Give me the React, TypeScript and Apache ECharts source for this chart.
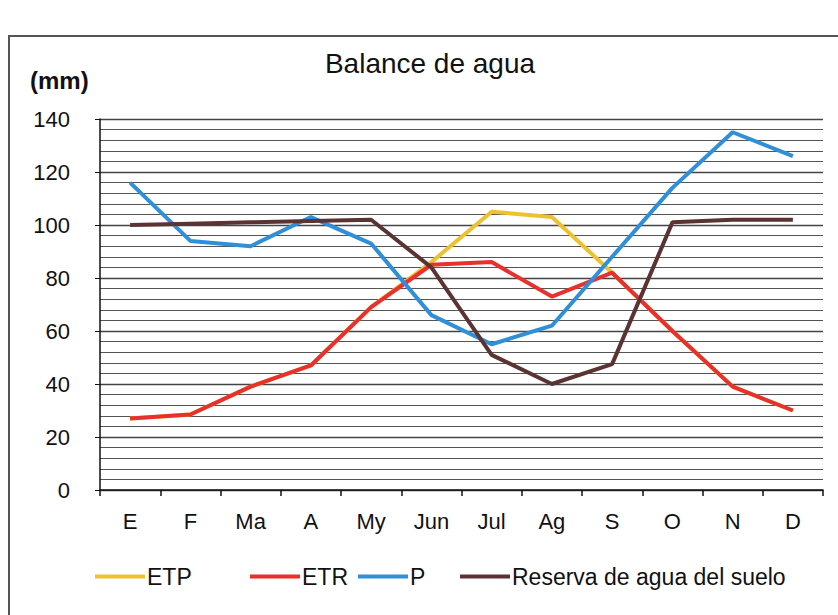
import React, { useEffect, useRef } from "react";
import * as echarts from "echarts";

const months = ["E", "F", "Ma", "A", "My", "Jun", "Jul", "Ag", "S", "O", "N", "D"];
const etp = [27, 28.5, 39, 47, 69, 86, 105, 103, 82, 60, 39, 30];
const etr = [27, 28.5, 39, 47, 69, 85, 86, 73, 82, 60, 39, 30];
const p = [116, 94, 92, 103, 93, 66, 55, 62, 88, 114, 135, 126];
const reserva = [100, 100.5, 101, 101.5, 102, 84, 51, 40, 47.5, 101, 102, 102];
const legendNames = ["ETP", "ETR", "P", "Reserva de agua del suelo"];
const legendLefts = [90, 245, 353, 455];

const FONT = "'Liberation Sans', Arial, sans-serif";

export default function App() {
  const ref = useRef<HTMLDivElement>(null);
  useEffect(() => {
    if (!ref.current) return;
    const chart = echarts.init(ref.current, undefined, { renderer: "svg" });
    const lineSeries = (name: string, data: number[], color: string, z: number) => ({
      name,
      type: "line",
      data,
      showSymbol: false,
      symbol: "none",
      z,
      lineStyle: { color, width: 4 },
      itemStyle: { color },
    });
    chart.setOption({
      animation: false,
      backgroundColor: "#ffffff",
      textStyle: { fontFamily: FONT, color: "#111" },
      title: {
        text: "Balance de agua",
        left: 425,
        top: 44,
        textAlign: "center",
        textStyle: { fontSize: 28, fontWeight: "normal", color: "#111", fontFamily: FONT },
      },
      graphic: [
        {
          type: "rect",
          shape: { x: 9, y: 36, width: 840, height: 580 },
          style: { fill: "none", stroke: "#555", lineWidth: 2 },
          silent: true,
        },
        {
          type: "text",
          left: 30,
          top: 68,
          style: { text: "(mm)", fontSize: 24, fontWeight: "bold", fill: "#111", fontFamily: FONT },
        },
      ],
      grid: { left: 100, right: 15, top: 119, bottom: 125, containLabel: false },
      legend: legendNames.map((n, i) => ({
        data: [n],
        left: legendLefts[i],
        top: 560,
        icon: "rect",
        itemWidth: 50,
        itemHeight: 4,
        itemGap: 0,
        textStyle: { fontSize: 23, color: "#111", fontFamily: FONT, padding: [0, 0, 0, -3] },
      })),
      xAxis: {
        type: "category",
        data: months,
        boundaryGap: true,
        axisLine: { show: true, lineStyle: { color: "#111", width: 1.5 } },
        axisTick: { show: true, inside: false, length: 6, lineStyle: { color: "#111", width: 1.5 } },
        axisLabel: { fontSize: 22, color: "#111", margin: 20, fontFamily: FONT },
      },
      yAxis: {
        type: "value",
        min: 0,
        max: 140,
        interval: 20,
        axisLine: { show: true, lineStyle: { color: "#111", width: 1.5 } },
        axisTick: { show: true, length: 5, lineStyle: { color: "#111" } },
        axisLabel: { fontSize: 22, color: "#111", margin: 30, fontFamily: FONT },
        splitLine: { show: true, lineStyle: { color: "#444", width: 1.3 } },
        minorTick: { show: false, splitNumber: 5 },
        minorSplitLine: { show: true, lineStyle: { color: "#555", width: 1.2 } },
      },
      series: [
        lineSeries("ETP", etp, "#EEC131", 2),
        lineSeries("ETR", etr, "#E8302D", 3),
        lineSeries("P", p, "#2F8FD9", 4),
        lineSeries("Reserva de agua del suelo", reserva, "#5B3333", 5),
      ],
    });
    return () => chart.dispose();
  }, []);
  return <div ref={ref} style={{ width: 838, height: 615, position: "absolute", left: 0, top: 0 }} />;
}
